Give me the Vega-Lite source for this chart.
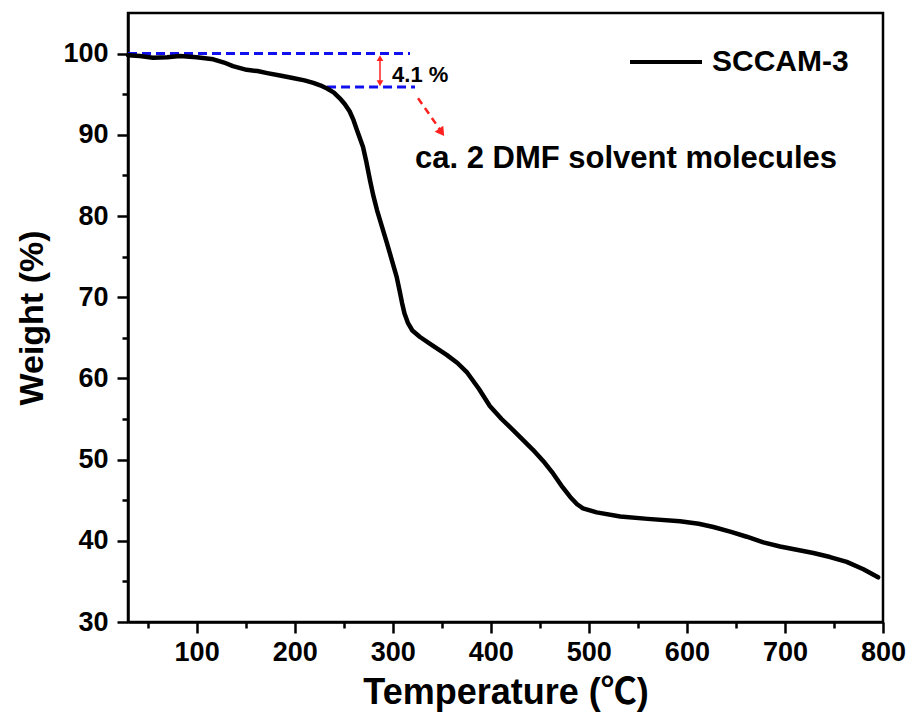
{
  "$schema": "https://vega.github.io/schema/vega-lite/v6.json",
  "width": 755,
  "height": 609,
  "autosize": {"type": "none"},
  "padding": {"left": 128, "top": 13, "right": 31, "bottom": 100},
  "background": "white",
  "config": {
    "view": {"stroke": "#000000", "strokeWidth": 2.5},
    "font": "Liberation Sans",
    "axis": {
      "domainColor": "#000000",
      "domainWidth": 2.5,
      "tickColor": "#000000",
      "tickWidth": 2.5,
      "grid": false,
      "labelFont": "Liberation Sans",
      "labelFontWeight": "bold",
      "labelFontSize": 27,
      "labelColor": "#000000",
      "titleFont": "Liberation Sans, Noto Sans CJK SC",
      "titleFontWeight": "bold",
      "titleColor": "#000000",
      "labelFlush": false,
      "labelOverlap": false
    },
    "legend": {
      "orient": "none",
      "legendX": 500,
      "legendY": 11,
      "padding": 0,
      "symbolType": "stroke",
      "symbolSize": 5184,
      "symbolStrokeWidth": 4,
      "labelFont": "Liberation Sans",
      "labelFontSize": 30,
      "labelFontWeight": "bold",
      "labelColor": "#000000",
      "labelOffset": 8
    }
  },
  "datasets": {
    "curve": [
      {"T": 30, "W": 99.8}, {"T": 42, "W": 99.7}, {"T": 55.5, "W": 99.5}, {"T": 70, "W": 99.55},
      {"T": 83, "W": 99.7}, {"T": 100, "W": 99.55}, {"T": 117, "W": 99.3}, {"T": 128, "W": 98.9},
      {"T": 137, "W": 98.45}, {"T": 151, "W": 98.0}, {"T": 162, "W": 97.85}, {"T": 172, "W": 97.6},
      {"T": 185, "W": 97.3}, {"T": 198, "W": 97.0}, {"T": 210, "W": 96.7}, {"T": 219, "W": 96.4},
      {"T": 226, "W": 96.1}, {"T": 233, "W": 95.7}, {"T": 240, "W": 95.2}, {"T": 246, "W": 94.5},
      {"T": 251, "W": 93.8}, {"T": 256, "W": 92.9}, {"T": 260, "W": 91.8}, {"T": 264, "W": 90.4},
      {"T": 269.7, "W": 88.5}, {"T": 273, "W": 86.7}, {"T": 276.8, "W": 84.4}, {"T": 280, "W": 82.6},
      {"T": 284, "W": 80.7}, {"T": 289, "W": 78.7}, {"T": 294, "W": 76.7}, {"T": 299, "W": 74.6},
      {"T": 304, "W": 72.5}, {"T": 307, "W": 70.8}, {"T": 309.5, "W": 69.3}, {"T": 312, "W": 68.0},
      {"T": 315.6, "W": 66.8}, {"T": 320, "W": 65.9}, {"T": 327.8, "W": 65.1}, {"T": 340, "W": 64.1},
      {"T": 355, "W": 62.9}, {"T": 366, "W": 61.9}, {"T": 376, "W": 60.7}, {"T": 388, "W": 58.7},
      {"T": 399, "W": 56.6}, {"T": 411, "W": 55.0}, {"T": 423, "W": 53.6}, {"T": 443, "W": 51.2},
      {"T": 455, "W": 49.6}, {"T": 463.5, "W": 48.3}, {"T": 472, "W": 46.8}, {"T": 481, "W": 45.4},
      {"T": 488, "W": 44.5}, {"T": 494, "W": 44.0}, {"T": 508, "W": 43.5}, {"T": 532, "W": 43.0},
      {"T": 560, "W": 42.7}, {"T": 593, "W": 42.4}, {"T": 612, "W": 42.1}, {"T": 627, "W": 41.7},
      {"T": 645, "W": 41.1}, {"T": 661, "W": 40.5}, {"T": 678, "W": 39.8}, {"T": 695, "W": 39.3},
      {"T": 712, "W": 38.9}, {"T": 729, "W": 38.5}, {"T": 746, "W": 38.0}, {"T": 763, "W": 37.4},
      {"T": 780, "W": 36.5}, {"T": 795, "W": 35.5}
    ],
    "guides": [
      {"T1": 30, "T2": 317.6, "W": 100},
      {"T1": 233, "T2": 322.7, "W": 95.9}
    ],
    "vArrow": [{"T": 287, "W1": 99.4, "W2": 96.4}],
    "vHeads": [
      {"T": 287, "W": 99.45, "shape": "triangle-up"},
      {"T": 287, "W": 96.35, "shape": "triangle-down"}
    ],
    "dArrow": [{"T1": 325.8, "W1": 94.5, "T2": 349.6, "W2": 90.4}],
    "dHead": [{"T": 349.8, "W": 90.3}],
    "pct": [{"T": 299.3, "W": 96.5, "label": "4.1 %"}],
    "note": [{"T": 322.7, "W": 85.9, "label": "ca. 2 DMF solvent molecules"}]
  },
  "layer": [
    {
      "data": {"name": "guides"},
      "mark": {"type": "rule", "color": "#1010ee", "strokeWidth": 3, "strokeDash": [9, 5]},
      "encoding": {
        "x": {"field": "T1", "type": "quantitative"},
        "x2": {"field": "T2"},
        "y": {"field": "W", "type": "quantitative"}
      }
    },
    {
      "data": {"name": "curve"},
      "mark": {"type": "line", "strokeWidth": 4.5, "interpolate": "linear", "strokeJoin": "round", "strokeCap": "round"},
      "encoding": {
        "x": {
          "field": "T", "type": "quantitative",
          "scale": {"domain": [30, 800], "nice": false, "zero": false},
          "axis": {
            "title": "Temperature (℃)",
            "titleFontSize": 36,
            "titlePadding": 10,
            "values": [50, 100, 150, 200, 250, 300, 350, 400, 450, 500, 550, 600, 650, 700, 750, 800],
            "labelExpr": "datum.value % 100 === 0 ? datum.label : ''",
            "tickSize": {"condition": {"test": "datum.value % 100 === 0", "value": 11}, "value": 6},
            "labelPadding": 6
          }
        },
        "y": {
          "field": "W", "type": "quantitative",
          "scale": {"domain": [30, 105], "nice": false, "zero": false},
          "axis": {
            "title": "Weight (%)",
            "titleFontSize": 34,
            "titlePadding": 13,
            "values": [30, 35, 40, 45, 50, 55, 60, 65, 70, 75, 80, 85, 90, 95, 100],
            "labelExpr": "datum.value % 10 === 0 ? datum.label : ''",
            "tickSize": {"condition": {"test": "datum.value % 10 === 0", "value": 11}, "value": 6},
            "labelPadding": 9
          }
        },
        "color": {
          "datum": "SCCAM-3",
          "type": "nominal",
          "scale": {"range": ["#000000"]},
          "legend": {"title": null}
        }
      }
    },
    {
      "data": {"name": "vArrow"},
      "mark": {"type": "rule", "color": "#ff2020", "strokeWidth": 1.5},
      "encoding": {
        "x": {"field": "T", "type": "quantitative"},
        "y": {"field": "W1", "type": "quantitative"},
        "y2": {"field": "W2"}
      }
    },
    {
      "data": {"name": "vHeads"},
      "mark": {"type": "point", "filled": true, "color": "#ff2020", "size": 45, "opacity": 1},
      "encoding": {
        "x": {"field": "T", "type": "quantitative"},
        "y": {"field": "W", "type": "quantitative"},
        "shape": {"field": "shape", "type": "nominal", "scale": null, "legend": null}
      }
    },
    {
      "data": {"name": "dArrow"},
      "mark": {"type": "rule", "color": "#ff2020", "strokeWidth": 2.5, "strokeDash": [7, 5]},
      "encoding": {
        "x": {"field": "T1", "type": "quantitative"},
        "y": {"field": "W1", "type": "quantitative"},
        "x2": {"field": "T2"},
        "y2": {"field": "W2"}
      }
    },
    {
      "data": {"name": "dHead"},
      "mark": {"type": "point", "filled": true, "color": "#ff2020", "size": 110, "opacity": 1, "shape": "triangle-down", "angle": -35},
      "encoding": {
        "x": {"field": "T", "type": "quantitative"},
        "y": {"field": "W", "type": "quantitative"}
      }
    },
    {
      "data": {"name": "pct"},
      "mark": {"type": "text", "align": "left", "baseline": "alphabetic", "fontSize": 22, "fontWeight": "bold", "font": "Liberation Sans", "color": "#000000"},
      "encoding": {
        "x": {"field": "T", "type": "quantitative"},
        "y": {"field": "W", "type": "quantitative"},
        "text": {"field": "label"}
      }
    },
    {
      "data": {"name": "note"},
      "mark": {"type": "text", "align": "left", "baseline": "alphabetic", "fontSize": 31, "fontWeight": "bold", "font": "Liberation Sans", "color": "#000000"},
      "encoding": {
        "x": {"field": "T", "type": "quantitative"},
        "y": {"field": "W", "type": "quantitative"},
        "text": {"field": "label"}
      }
    }
  ]
}
